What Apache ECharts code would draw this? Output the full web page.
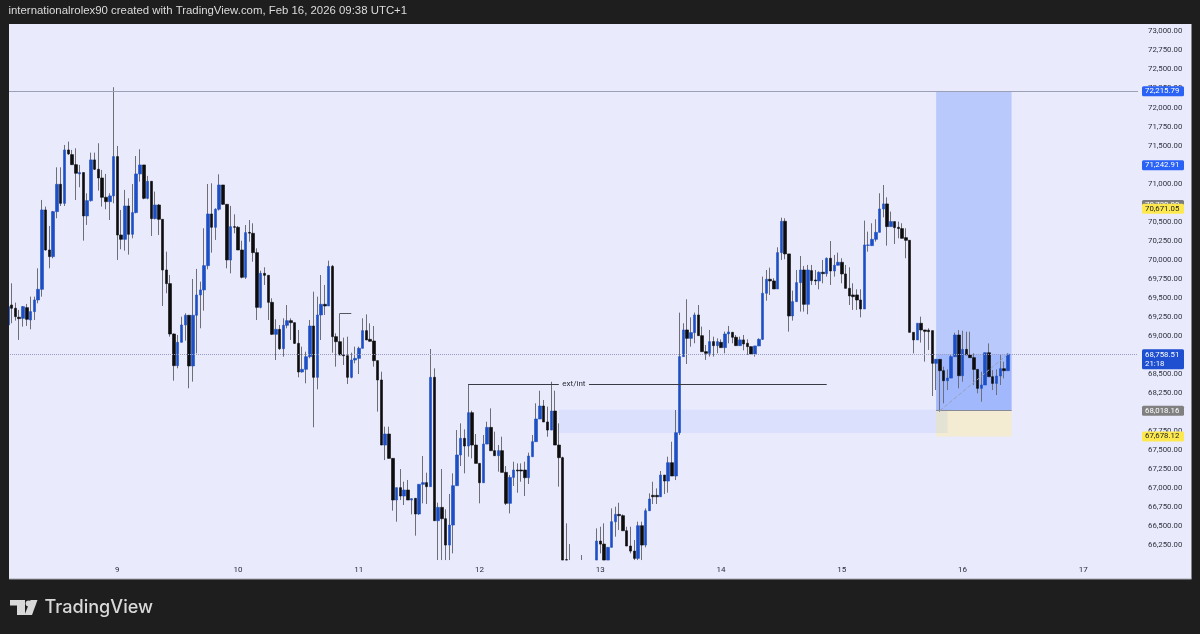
<!DOCTYPE html>
<html><head><meta charset="utf-8">
<style>html,body{margin:0;padding:0;background:#1e1e1e}#c{width:1200px;height:634px}</style>
<script src="https://cdn.jsdelivr.net/npm/echarts@6/dist/echarts.min.js"></script>
</head><body><div id="c"></div>
<script>
const headerText = 'internationalrolex90 created with TradingView.com, Feb 16, 2026 09:38 UTC+1';
const dayLabels = ['9','10','11','12','13','14','15','16','17'];
const dayIndex = [29,61,93,125,157,189,221,253,285];
const barSlots = 300;
const priceTicks = [66250,66500,66750,67000,67250,67500,67750,68000,68250,68500,68750,69000,69250,69500,69750,70000,70250,70500,70750,71000,71250,71500,71750,72000,72250,72500,72750,73000];

const opens = [69144,
69406,69363,69245,69231,69371,69209,69319,69472,69612,70655,
70129,70042,70633,70992,70742,71443,71382,71250,71128,71146,
70576,70777,71312,71189,71075,70821,70764,70839,71356,70326,
70269,70707,70335,70620,71128,71246,70808,71031,70541,70720,
70532,69866,69687,69025,68609,68916,69144,69271,68605,69271,
69538,69604,69923,70602,70427,70664,70983,70729,69997,70435,
70427,70129,69770,70360,70348,70094,69375,69822,69796,69441,
69021,69086,68832,69139,69200,69174,68902,68526,68561,68727,
69130,68456,69275,69415,69393,69914,68990,68924,68749,68740,
68456,68683,68705,68837,69069,68955,68933,68675,68421,67566,
67711,67391,66844,67006,66896,66975,66844,66866,66660,67050,
67072,67019,68456,66572,66747,66598,66252,66515,67032,67435,
67654,67553,67991,67566,67325,67071,67579,67798,67492,67426,
67492,67207,66800,67141,67238,67238,67238,67137,67413,67610,
67908,68079,67869,67763,68013,67566,67400,66060,66055,null,
null,66055,null,null,null,66055,66305,66265,66055,66222,
66559,66655,66638,66440,66239,66173,66077,66506,66252,66703,
66905,66905,66887,67172,67093,67334,67159,67728,68728,69078,
68968,69043,69275,69003,68793,68771,68925,68872,68916,68846,
69025,69047,68982,68872,68947,68903,68859,68763,68868,68955,
69560,69744,69722,69617,70094,70506,70077,69262,69450,69700,
69866,69415,69858,69735,69722,69836,69818,70020,69853,69928,
69967,69814,69625,69538,69538,69472,69354,70190,70186,70269,
70361,70668,70734,70436,70502,70427,70410,70291,70256,69047,
68947,69166,69078,69075,69069,68640,68692,68543,68411,68446,
68727,69012,68477,68823,68749,68714,68560,68311,68355,68779,
68464,68376,68473,68569,68543];

const closes = [69385,
69363,69253,69227,69385,69218,69319,69472,69612,70655,70129,
70042,70633,70992,70742,71443,71391,71250,71137,71146,70576,
70777,71312,71189,71075,70821,70764,70839,71356,70326,70269,
70707,70335,70620,71128,71246,70808,71031,70541,70720,70532,
69866,69687,69025,68609,68916,69144,69271,68605,69271,69538,
69604,69923,70602,70427,70664,70983,70729,69998,70435,70427,
70129,69770,70357,70350,70094,69375,69822,69796,69441,69021,
69086,68832,69139,69200,69174,68902,68526,68561,68727,69130,
68456,69275,69415,69393,69914,68990,68924,68749,68740,68456,
68683,68705,68837,69069,68946,68929,68675,68421,67566,67711,
67391,66844,67006,66896,66975,66844,66861,66660,67050,67072,
67019,68456,66572,66747,66598,66252,66515,67032,67435,67654,
67553,67991,67566,67325,67071,67579,67798,67492,67426,67492,
67207,66800,67141,67238,67225,67225,67137,67422,67610,67908,
68079,67869,67763,68013,67566,67400,66055,66055,66055,null,
null,66055,null,null,null,66305,66265,66055,66222,66559,
66655,66638,66440,66239,66173,66077,66506,66252,66703,66857,
66887,66887,67172,67093,67334,67159,67728,68728,69078,68968,
69043,69275,69003,68793,68771,68925,68872,68925,68846,69025,
69052,68982,68872,68947,68894,68859,68763,68868,68955,69560,
69744,69722,69617,70094,70506,70077,69262,69450,69700,69866,
69415,69866,69726,69722,69836,69818,70020,69853,69928,69967,
69814,69625,69525,69516,69472,69354,70195,70195,70269,70361,
70668,70734,70436,70502,70423,70410,70282,70256,69047,68947,
69166,69078,69060,69056,68640,68693,68543,68411,68446,68727,
69012,68477,68823,68749,68714,68560,68311,68355,68779,68464,
68376,68473,68569,68543,68759];

const highs = [69385,
69691,69437,69341,69393,69420,69516,69516,69888,70786,70699,
70445,70642,71215,71215,71509,71553,71443,71465,71246,71146,
70874,71408,71408,71531,71180,71128,70874,72267,71496,70655,
70918,70808,70996,71364,71452,71246,71102,71031,70896,70734,
70532,70107,69801,69034,69012,69253,69297,69271,69748,69880,
69713,70414,70996,71005,70677,71123,70983,70729,70707,70597,
70444,70251,70457,70523,70479,70151,69857,69901,69796,69494,
69218,69143,69231,69406,69231,69174,69078,68859,68793,69209,
69581,69516,69800,69669,69989,69932,69034,69297,68977,68990,
68780,68859,68859,69231,69283,69165,69130,68675,68530,67807,
67807,67391,67006,67251,67085,67107,66866,66866,67050,67422,
67203,68828,68574,66809,67251,66721,66923,67194,67763,67851,
67772,68368,68017,67711,67325,67698,67873,68048,67742,67566,
67676,67290,67172,67347,67325,67325,67347,67466,67698,68114,
68280,68158,68070,68398,68280,67851,67413,66537,66265,null,
null,66121,null,null,null,66471,66493,66537,66222,66734,
66756,66808,66655,66493,66493,66318,66559,66559,66734,66931,
67084,66997,67225,67172,67413,67610,68026,69306,69166,69481,
69244,69306,69406,69122,68881,69078,68990,68968,68955,69056,
69131,69047,69012,68990,69012,68955,68859,68868,68968,69779,
69866,69897,69757,70164,70554,70545,70077,69595,69866,70050,
69919,69932,69932,69866,69848,69998,70030,70247,70063,70094,
70020,69932,69901,69691,69612,69612,70515,70370,70480,70532,
70874,70983,70821,70633,70502,70502,70480,70414,70256,69047,
69166,69253,69078,69100,69069,68693,68692,68595,68560,68749,
69042,69077,69068,69055,69055,68771,68560,68530,68779,68902,
68550,68560,68749,68661,68771];

const lows = [69144,
69166,69201,68947,69122,69131,69087,69209,69428,69516,70120,
69888,70020,70545,70707,70707,71377,71246,70786,70953,70252,
70458,70764,71180,70909,70699,70664,70523,70742,69998,70138,
70120,70068,70282,70611,71027,70795,70795,70313,70532,70326,
69393,69560,68990,68412,68574,68916,68938,68312,68399,68771,
69100,69332,69875,70094,70261,70646,70720,69888,69822,70348,
70129,69756,69748,70238,69975,69209,69362,69669,69209,69012,
68683,68815,68727,69100,68946,68894,68456,68517,68377,68705,
67799,68298,68946,69275,69393,68780,68596,68749,68618,68368,
68443,68640,68499,68837,68946,68929,68596,68005,67566,67369,
67391,66704,66559,66844,66778,66844,66655,66375,66647,66800,
66791,67019,66572,66055,66055,66055,66055,66143,67032,67290,
67194,67413,67391,67325,66800,67071,67579,67492,67426,67216,
67207,66778,66668,67028,66940,67084,66896,67054,67413,67610,
67908,67869,67676,67763,67566,67019,66055,66055,66055,null,
null,66055,null,null,null,66055,66143,66055,66055,66222,
66362,66449,66440,66239,66143,66055,66055,66055,66222,66703,
66791,66791,66887,66922,66940,67159,67106,67698,68728,68631,
68859,68903,69003,68793,68684,68728,68728,68771,68846,68771,
68903,68903,68872,68872,68810,68749,68749,68728,68868,68947,
69463,69538,69617,69617,69998,70007,69056,69201,69450,69319,
69319,69284,69669,69669,69612,69691,69779,69669,69779,69928,
69691,69625,69406,69341,69341,69244,69354,70107,70186,70239,
70361,70558,70186,70436,70208,70282,70282,70020,69047,68771,
68947,68912,68662,68815,68210,68289,68004,68114,68289,68446,
68727,68311,68398,68749,68714,68354,68245,68135,68355,68464,
68289,68223,68355,68442,68543];

const C_BLUE='#1d4fc4', C_BLACK='#0d0d0d', C_WICK='#6e6e78', HIDDEN='rgba(0,0,0,0)';
const categories = Array.from({length:barSlots},(_,i)=>{const j=dayIndex.indexOf(i);return j>=0?dayLabels[j]:'';});
const fmt = v => v.toLocaleString('en-US',{minimumFractionDigits:2,maximumFractionDigits:2});
const wickData = opens.map((o,i)=> o==null? '-' : [o,closes[i],lows[i],highs[i]]);
const bodyData = opens.map((o,i)=> (o==null||o===closes[i])? '-' : [o,closes[i],Math.min(o,closes[i]),Math.max(o,closes[i])]);
const tag=(price,bg,fg,text,extra)=>({yAxis:price,lineStyle:{color:HIDDEN,width:1,type:'solid'},label:Object.assign({show:true,position:'end',distance:4,formatter:text||fmt(price),color:fg,backgroundColor:bg,
  fontFamily:'Roboto',fontSize:7.8,lineHeight:9,width:36,align:'left',padding:[1,3,0,3],borderRadius:1.5},extra||{})});

const entryPrice=68018.16, stopPrice=67678.12, targetPrice=72215.79, lastPrice=68758.51, extPrice=68368;
const boxStart=246, boxEnd=266, demandStart=146, demandEnd=249, demandTop=68030, demandBottom=67725;

const chart=echarts.init(document.getElementById('c'),null,{renderer:'canvas'});
chart.setOption({
 animation:false,backgroundColor:'#1e1e1e',
 graphic:[
  {type:'rect',z:0,shape:{x:9,y:24,width:1182.5,height:555},style:{fill:'#e9eafc'}},
  {type:'rect',z:0,shape:{x:9,y:578.5,width:1182.5,height:1},style:{fill:'#a8a8b0'}},
  {type:'rect',z:50,shape:{x:0,y:24,width:9,height:555},style:{fill:'#1e1e1e'}},
  {type:'text',z:60,style:{x:8.5,y:11,text:headerText,fill:'#dcdcdc',font:'11.4px "Liberation Sans"',textVerticalAlign:'middle'}},
  {type:'polygon',z:60,shape:{points:[[10,600],[25,600],[25,615],[17,615],[17,605.5],[10,605.5]]},style:{fill:'#d9d9d9'}},
  {type:'circle',z:60,shape:{cx:28.6,cy:603.6,r:3},style:{fill:'#d9d9d9'}},
  {type:'polygon',z:60,shape:{points:[[30.5,600],[37.5,600],[32,615],[24.5,615]]},style:{fill:'#d9d9d9'}},
  {type:'text',z:60,style:{x:44.5,y:607.5,text:'TradingView',fill:'#d9d9d9',font:'500 18.1px Inter',textVerticalAlign:'middle'}}
 ],
 grid:{left:6.03,top:24,width:1131.97,height:555},
 xAxis:{type:'category',data:categories,boundaryGap:true,axisLine:{show:false},axisTick:{show:false},splitLine:{show:false},
  axisLabel:{inside:true,margin:5,color:'#2a2e39',fontFamily:'Roboto',fontSize:8,interval:(i,v)=>v!==''}},
 yAxis:{type:'value',position:'right',min:65806,max:73098,scale:true,axisLine:{show:false},axisTick:{show:false},splitLine:{show:false},
  axisLabel:{margin:10,color:'#2f333f',fontFamily:'Roboto',fontSize:7.8,formatter:v=>fmt(v),customValues:priceTicks}},
 series:[
  {type:'candlestick',name:'wicks',barWidth:1,data:wickData,z:2,silent:true,
   itemStyle:{color:C_WICK,color0:C_WICK,borderColor:C_WICK,borderColor0:C_WICK,borderWidth:1},
   markArea:{silent:true,data:[
     [{coord:[boxStart,entryPrice],itemStyle:{color:'#bac9fc'}},{coord:[boxEnd,targetPrice]}],
     [{coord:[boxStart,entryPrice],itemStyle:{color:'rgba(41,98,255,0.17)'}},{coord:[boxEnd,lastPrice]}],
     [{coord:[boxStart,stopPrice],itemStyle:{color:'#f3ecd2'}},{coord:[boxEnd,entryPrice]}],
     [{coord:[demandStart,demandBottom],itemStyle:{color:'rgba(41,98,255,0.07)'}},{coord:[demandEnd,demandTop]}]
   ]},
   markLine:{silent:true,symbol:'none',animation:false,precision:2,label:{show:false},lineStyle:{color:'#333',width:1,type:'solid'},emphasis:{disabled:true},data:[
     {yAxis:targetPrice,lineStyle:{color:'#9c9fb8',width:1,type:'solid'},label:{show:false}},
     {yAxis:lastPrice,lineStyle:{color:'#9a9cc4',width:1,type:'dotted'},label:{show:false}},
     [{coord:[122,extPrice],lineStyle:{color:'#3a3a44',width:1,type:'solid'}},{coord:[146,extPrice]}],
     [{coord:[154,extPrice],lineStyle:{color:'#3a3a44',width:1,type:'solid'}},{coord:[217,extPrice]}],
     [{coord:[146,extPrice],lineStyle:{color:HIDDEN,width:1,type:'solid'},label:{show:true,position:'middle',distance:-4,formatter:'ext/int',color:'#2a2e39',fontFamily:'Roboto',fontSize:8}},{coord:[154,extPrice]}],
     [{coord:[88,69297],lineStyle:{color:'#55555f',width:1,type:'solid'}},{coord:[91,69297]}],
     [{coord:[boxStart,entryPrice],lineStyle:{color:'#8a8a94',width:1,type:'solid'}},{coord:[boxEnd,entryPrice]}],
     [{coord:[247,entryPrice],lineStyle:{color:'#9aa0b8',width:1,type:'dashed'}},{coord:[265,lastPrice]}],
     tag(70720,'#7c7c7c','#ffffff'),
     tag(70671.05,'#fde94f','#222222'),
     tag(targetPrice,'#2a62f5','#ffffff'),
     tag(71242.91,'#2a62f5','#ffffff'),
     tag(entryPrice,'#808080','#ffffff'),
     tag(stopPrice,'#fde94f','#222222'),
     tag(lastPrice,'#1d4fd0','#ffffff',fmt(lastPrice)+'\n21:18',{offset:[0,5],padding:[1,3,1,3]})
   ]}
  },
  {type:'candlestick',name:'bodies',barWidth:3,data:bodyData,z:3,silent:true,
   itemStyle:{color:C_BLUE,color0:C_BLACK,borderColor:C_BLUE,borderColor0:C_BLACK,borderWidth:0.6}}
 ]
});
</script></body></html>
